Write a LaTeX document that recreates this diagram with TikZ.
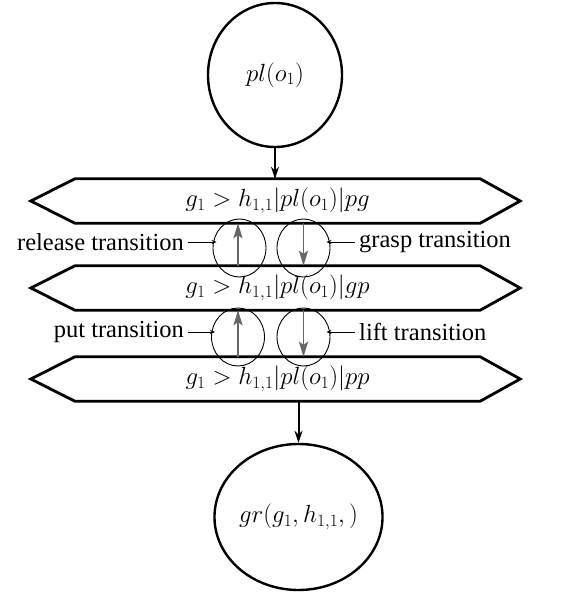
\documentclass[tikz,border=0pt]{standalone}
\usepackage{fontspec}
\setmainfont{Liberation Serif}
\usetikzlibrary{shapes.geometric,arrows.meta}
\begin{document}
\begin{tikzpicture}[x=1pt,y=1pt,
  bigcirc/.style={draw,ellipse,line width=2.4pt,inner sep=0pt},
  smallcirc/.style={draw,ellipse,line width=0.9pt,minimum width=53pt,minimum height=58pt,inner sep=0pt},
  hexbody/.style={minimum width=405pt,minimum height=44pt,inner sep=0pt,font=\fontsize{26}{30}\selectfont},
  hexline/.style={line width=2.8pt,line join=miter},
  mainarr/.style={line width=2pt,-{Stealth[length=12pt,width=8pt]}},
  greyarr/.style={line width=1.8pt,draw=black!60,-{Stealth[length=15pt,width=9pt,inset=3pt,fill=black!60]}},
  labarr/.style={line width=0.9pt,-{Stealth[length=5pt,width=4pt]}},
  lab/.style={inner sep=0pt,font=\fontsize{24.5}{29}\selectfont},
  every node/.append style={font=\fontsize{24.5}{29}\selectfont}]
\useasboundingbox (0,0) rectangle (565,-594);
% big circles
\node[bigcirc,minimum width=134pt,minimum height=144pt] (p) at (275,-75) {$pl(o_1)$};
\node[bigcirc,minimum width=146pt,minimum height=146pt] (g) at (298.5,-517) {$gr(g_1,h_{1,1},)$};
% hexagons
\node[hexbody] (h1) at (277.5,-201) {$g_1 > h_{1,1}|pl(o_1)|pg$};
\node[hexbody] (h2) at (277.5,-288) {$g_1 > h_{1,1}|pl(o_1)|gp$};
\node[hexbody] (h3) at (277.5,-379) {$g_1 > h_{1,1}|pl(o_1)|pp$};
\foreach \h in {h1,h2,h3}{
  \draw[hexline] (\h.north west) -- (\h.north east) -- ([xshift=40pt]\h.east)
    -- (\h.south east) -- (\h.south west) -- ([xshift=-44pt]\h.west) -- cycle;
}
% main arrows
\draw[mainarr] (p.south) -- (p.south |- h1.north);
\draw[mainarr] (h3.south -| g.north) -- (g.north);
% small circles
\node[smallcirc] (c1) at (239.5,-248) {};
\node[smallcirc] (c2) at (303.5,-248) {};
\node[smallcirc] (c3) at (238,-337) {};
\node[smallcirc] (c4) at (303.5,-337) {};
% transition arrows
\draw[greyarr] ([xshift=-1.5pt]h2.north -| c1) -- ([xshift=-1.5pt]h1.south -| c1);
\draw[greyarr] (h1.south -| c2) -- (h2.north -| c2);
\draw[greyarr] (h3.north -| c3) -- (h2.south -| c3);
\draw[greyarr] (h2.south -| c4) -- (h3.north -| c4);
% labels
\node[lab,anchor=east] (rel) at (184,-242) {release transition};
\node[lab,anchor=west] (gra) at (359,-242) {grasp transition};
\node[lab,anchor=east] (put) at (184,-332) {put transition};
\node[lab,anchor=west] (lif) at (359,-332) {lift transition};
\draw[labarr] ([xshift=4pt]rel.east) -- ([xshift=4pt]rel.east -| c1.west);
\draw[labarr] ([xshift=-4pt]gra.west) -- ([xshift=-4pt]gra.west -| c2.east);
\draw[labarr] ([xshift=4pt]put.east) -- ([xshift=4pt]put.east -| c3.west);
\draw[labarr] ([xshift=-4pt]lif.west) -- ([xshift=-4pt]lif.west -| c4.east);
\end{tikzpicture}
\end{document}
